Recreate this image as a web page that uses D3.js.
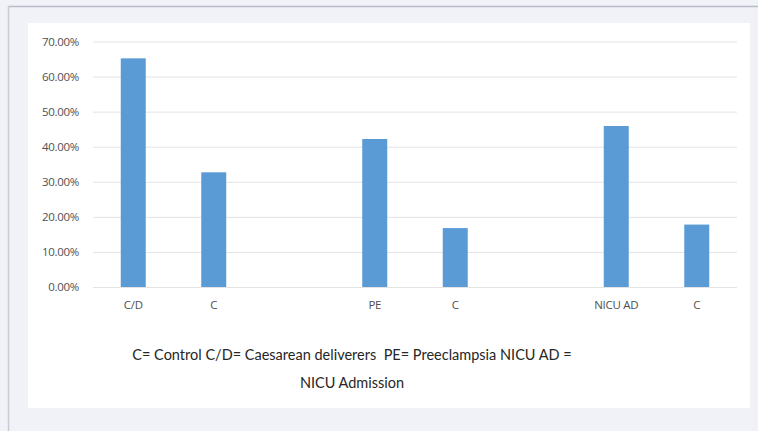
<!DOCTYPE html>
<html>
<head>
<meta charset="utf-8">
<script src="https://cdn.jsdelivr.net/npm/d3@7"></script>
<style>
  html, body { margin: 0; padding: 0; background: #f1f2f8; }
  svg { display: block; }
  .caption { white-space: pre; }
</style>
</head>
<body>
<svg id="chart" width="758" height="431"></svg>
<script>
// Category slots (blank slots separate the three groups)
const categoryKeys = ["cd", "c1", "gap1", "pe", "c2", "gap2", "nicu", "c3"];
const categoryLabels = ["C/D", "C", "", "PE", "C", "", "NICU AD", "C"];
const percentValues = [65.2, 32.7, null, 42.2, 16.8, null, 45.9, 17.8];
const yTicks = [0, 10, 20, 30, 40, 50, 60, 70];
const captionLines = [
  "C= Control C/D= Caesarean deliverers  PE= Preeclampsia NICU AD =",
  "NICU Admission"
];

const svg = d3.select("#chart");

// page frame
svg.append("line").attr("x1", 8).attr("x2", 758).attr("y1", 6.5).attr("y2", 6.5)
  .attr("stroke", "#b9bcc4").attr("stroke-width", 1.5);
svg.append("line").attr("x1", 8.5).attr("x2", 8.5).attr("y1", 6).attr("y2", 431)
  .attr("stroke", "#c8cbd3").attr("stroke-width", 1.5);

// white chart panel
svg.append("rect").attr("x", 28).attr("y", 23).attr("width", 722).attr("height", 385)
  .attr("fill", "#ffffff");

const plot = { left: 93, right: 737, top: 41.5, bottom: 287 };

const x = d3.scaleBand()
  .domain(categoryKeys)
  .range([plot.left, plot.right])
  .paddingInner(0.69)
  .paddingOuter(0.345);

const y = d3.scaleLinear()
  .domain([0, 70])
  .range([plot.bottom, plot.top]);

// gridlines
svg.append("g")
  .attr("transform", `translate(${plot.left},0)`)
  .call(d3.axisLeft(y).tickValues(yTicks).tickSize(-(plot.right - plot.left)).tickFormat(""))
  .call(g => g.select(".domain").remove())
  .call(g => g.selectAll("line").attr("stroke", "#e3e3e3").attr("stroke-width", 1));

// y tick labels
svg.append("g")
  .attr("transform", `translate(79,0)`)
  .call(d3.axisLeft(y).tickValues(yTicks).tickSize(0).tickPadding(0)
    .tickFormat(d => d.toFixed(2) + "%"))
  .call(g => g.select(".domain").remove())
  .call(g => g.selectAll("text")
    .attr("font-family", "'Open Sans', sans-serif")
    .attr("font-size", 11.5)
    .attr("letter-spacing", -0.3)
    .attr("fill", "#505050"));

// bars
const barData = categoryKeys.map((k, i) => ({ key: k, label: categoryLabels[i], value: percentValues[i] }))
  .filter(d => d.value !== null);

svg.append("g").selectAll("rect")
  .data(barData)
  .join("rect")
  .attr("x", d => x(d.key) + x.bandwidth() / 2 - 12.5)
  .attr("width", 25)
  .attr("y", d => y(d.value))
  .attr("height", d => y(0) - y(d.value))
  .attr("fill", "#5b9bd5");

// x axis labels
const labelMap = new Map(categoryKeys.map((k, i) => [k, categoryLabels[i]]));
svg.append("g")
  .attr("transform", `translate(0,${plot.bottom})`)
  .call(d3.axisBottom(x).tickSize(0).tickPadding(14).tickFormat(k => labelMap.get(k)))
  .call(g => g.select(".domain").remove())
  .call(g => g.selectAll("text")
    .attr("font-family", "'Open Sans', sans-serif")
    .attr("font-size", 11.5)
    .attr("letter-spacing", -0.3)
    .attr("fill", "#505050"));

// caption
svg.append("g").selectAll("text")
  .data(captionLines)
  .join("text")
  .attr("class", "caption")
  .attr("x", 352)
  .attr("y", (d, i) => 360 + i * 28)
  .attr("text-anchor", "middle")
  .attr("font-family", "Lato, 'Open Sans', sans-serif")
  .attr("font-size", 14.5)
  .attr("fill", "#262626")
  .text(d => d);
</script>
</body>
</html>
